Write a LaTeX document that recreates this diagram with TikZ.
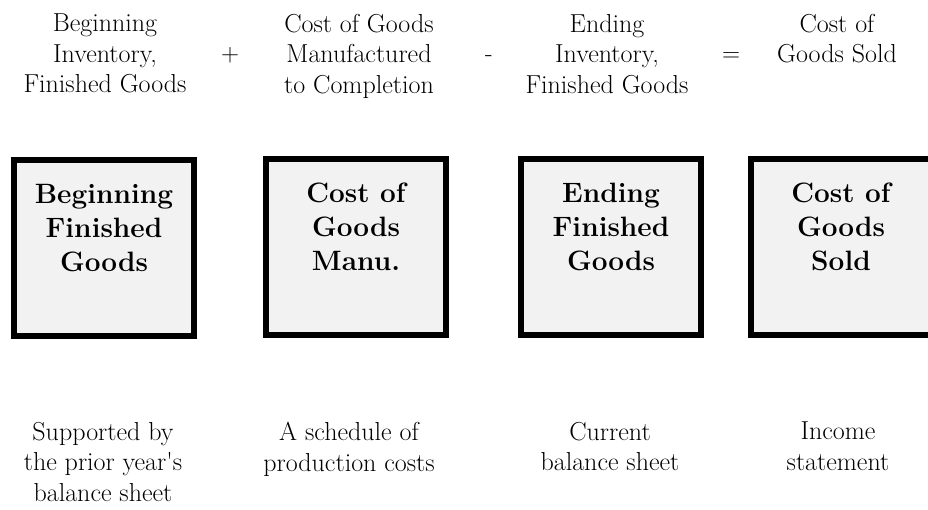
\documentclass[tikz,border=0pt]{standalone}
\usetikzlibrary{positioning}
\definecolor{boxgray}{HTML}{F2F2F2}
\tikzset{
  acctbox/.style={draw, line width=6pt, fill=boxgray, minimum width=180pt, minimum height=176pt, inner sep=0pt},
  boxtext/.style={align=center, font=\fontsize{28}{34}\selectfont\bfseries, inner sep=0pt, anchor=north},
  eqtext/.style={align=center, font=\fontsize{26}{30.5}\selectfont, inner sep=0pt, anchor=north},
  optext/.style={font=\fontsize{25}{30}\selectfont, inner sep=0pt, anchor=base}
}
\begin{document}
\begin{tikzpicture}[x=1pt,y=-1pt]
  \useasboundingbox (0,0) rectangle (928,510);

  % equation line
  \node[eqtext] (begeq) at (105,14) {Beginning\\ Inventory,\\ Finished Goods};
  \node[eqtext] (mfgeq) at (359,14) {Cost of Goods\\ Manufactured\\ to Completion};
  \node[eqtext] (endeq) at (607,14) {Ending\\ Inventory,\\ Finished Goods};
  \node[eqtext] (cgseq) at (837,14) {Cost of\\ Goods Sold};
  \node[optext] (plus) at (230,62) {+};
  \node[optext] (minus) at (489,62) {-};
  \node[optext] (equals) at (731,62) {=};

  % boxes
  \node[acctbox] (begbox) at (104,248) {};
  \node[acctbox] (mfgbox) at (356,247) {};
  \node[acctbox] (endbox) at (611,247) {};
  \node[acctbox] (cgsbox) at (841,247) {};
  \node[boxtext] (begtxt) at ([yshift=-27pt]begbox.north) {Beginning\\ Finished\\ Goods};
  \node[boxtext] (mfgtxt) at ([yshift=-27pt]mfgbox.north) {Cost of\\ Goods\\ Manu.};
  \node[boxtext] (endtxt) at ([yshift=-27pt]endbox.north) {Ending\\ Finished\\ Goods};
  \node[boxtext] (cgstxt) at ([yshift=-27pt]cgsbox.north) {Cost of\\ Goods\\ Sold};

  % sources
  \node[eqtext] (begsrc) at (103,422) {Supported by\\ the prior year\textquotesingle s\\ balance sheet};
  \node[eqtext] (mfgsrc) at (349,422) {A schedule of\\ production costs};
  \node[eqtext] (endsrc) at (610,422) {Current\\ balance sheet};
  \node[eqtext] (cgssrc) at (838,422) {Income\\ statement};
\end{tikzpicture}
\end{document}
